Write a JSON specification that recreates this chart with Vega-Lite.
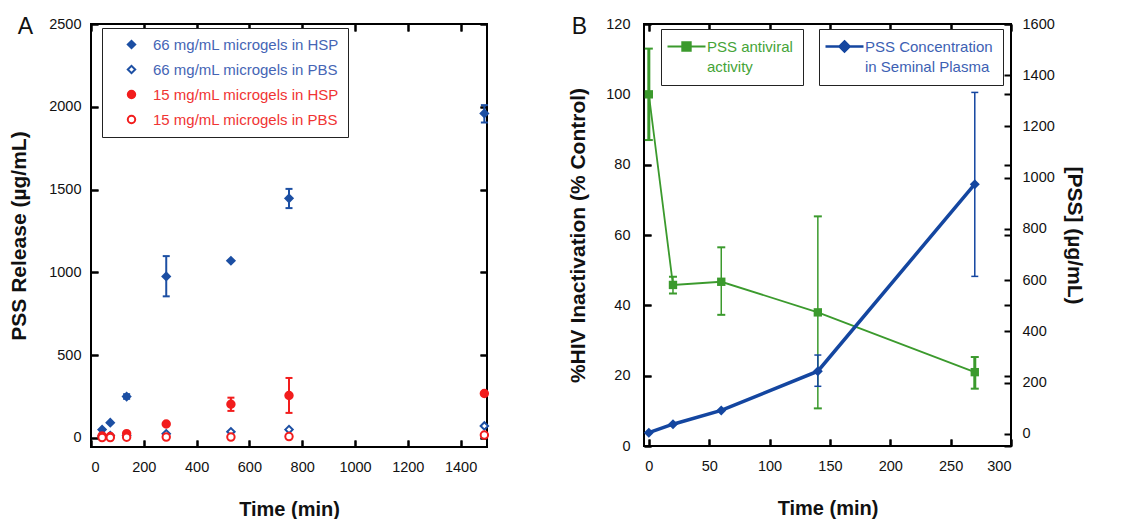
{
  "$schema": "https://vega.github.io/schema/vega-lite/v6.json",
  "background": "white",
  "padding": {"left": 7, "top": 15, "right": 2, "bottom": 2},
  "spacing": 72,
  "config": {
    "font": "Liberation Sans",
    "view": {"stroke": "#000", "strokeWidth": 2},
    "axis": {"domain": false, "ticks": true, "tickSize": -7, "tickWidth": 2, "tickColor": "#000000", "tickOpacity": 1, "grid": true, "gridColor": "#000000", "gridOpacity": 1, "gridWidth": 2, "format": "d", "labelFont": "Liberation Sans", "labelFontSize": 14.5, "labelColor": "#111", "titleFont": "Liberation Sans", "titleFontSize": 21, "titleFontWeight": "bold", "titleColor": "#111"},
    "axisBottom": {"labelPadding": 20, "titlePadding": 26, "titleFontSize": 20},
    "axisLeft": {"labelPadding": 17, "titlePadding": 19},
    "axisRight": {"labelPadding": 18, "titlePadding": 9},
    "title": {"fontSize": 23, "fontWeight": "normal", "anchor": "start", "frame": "bounds", "offset": -23, "color": "#111"},
    "legend": {"labelFont": "Liberation Sans", "labelFontSize": 15, "strokeColor": "#222", "fillColor": "#fff", "labelLimit": 400}
  },
  "hconcat": [
    {
      "width": 396,
      "height": 423,
      "title": {"text": "A", "dx": 9},
      "data": {"values": [
        {"s": "66 mg/mL microgels in HSP", "t": 42, "v": 50},
        {"s": "66 mg/mL microgels in HSP", "t": 73, "v": 92},
        {"s": "66 mg/mL microgels in HSP", "t": 135, "v": 250, "lo": 236, "hi": 264},
        {"s": "66 mg/mL microgels in HSP", "t": 285, "v": 975, "lo": 855, "hi": 1098},
        {"s": "66 mg/mL microgels in HSP", "t": 530, "v": 1070},
        {"s": "66 mg/mL microgels in HSP", "t": 750, "v": 1447, "lo": 1388, "hi": 1504},
        {"s": "66 mg/mL microgels in HSP", "t": 1490, "v": 1960, "lo": 1905, "hi": 2010},
        {"s": "66 mg/mL microgels in PBS", "t": 42, "v": 12},
        {"s": "66 mg/mL microgels in PBS", "t": 73, "v": 14},
        {"s": "66 mg/mL microgels in PBS", "t": 135, "v": 15},
        {"s": "66 mg/mL microgels in PBS", "t": 285, "v": 25},
        {"s": "66 mg/mL microgels in PBS", "t": 530, "v": 37},
        {"s": "66 mg/mL microgels in PBS", "t": 750, "v": 50},
        {"s": "66 mg/mL microgels in PBS", "t": 1490, "v": 72},
        {"s": "15 mg/mL microgels in HSP", "t": 42, "v": 12},
        {"s": "15 mg/mL microgels in HSP", "t": 73, "v": 8},
        {"s": "15 mg/mL microgels in HSP", "t": 135, "v": 26},
        {"s": "15 mg/mL microgels in HSP", "t": 285, "v": 84},
        {"s": "15 mg/mL microgels in HSP", "t": 530, "v": 203, "lo": 163, "hi": 243},
        {"s": "15 mg/mL microgels in HSP", "t": 750, "v": 256, "lo": 151, "hi": 362},
        {"s": "15 mg/mL microgels in HSP", "t": 1490, "v": 268},
        {"s": "15 mg/mL microgels in PBS", "t": 42, "v": 2},
        {"s": "15 mg/mL microgels in PBS", "t": 73, "v": 2},
        {"s": "15 mg/mL microgels in PBS", "t": 135, "v": 4},
        {"s": "15 mg/mL microgels in PBS", "t": 285, "v": 5},
        {"s": "15 mg/mL microgels in PBS", "t": 530, "v": 5},
        {"s": "15 mg/mL microgels in PBS", "t": 750, "v": 8},
        {"s": "15 mg/mL microgels in PBS", "t": 1490, "v": 17}
      ]},
      "layer": [
        {
          "transform": [{"filter": "isValid(datum.lo)"}],
          "mark": {"type": "rule", "strokeWidth": 2},
          "encoding": {
            "x": {"field": "t", "type": "quantitative", "scale": {"domain": [0, 1500], "nice": false, "zero": false}, "axis": {"orient": "top", "labels": false, "title": null, "values": [0, 200, 400, 600, 800, 1000, 1200, 1400], "gridDash": [7, 409, 7, 1000]}},
            "y": {"field": "lo", "type": "quantitative", "scale": {"domain": [-55, 2500], "nice": false, "zero": false}, "axis": {"orient": "right", "labels": false, "title": null, "values": [0, 500, 1000, 1500, 2000, 2500], "gridDash": [7, 382, 7, 1000]}},
            "y2": {"field": "hi"},
            "color": {"condition": {"test": "indexof(datum.s, '66') == 0", "value": "#1c4fa3"}, "value": "#f21d1d"}
          }
        },
        {
          "transform": [{"filter": "isValid(datum.lo)"}],
          "mark": {"type": "tick", "orient": "horizontal", "size": 7, "thickness": 2, "opacity": 1},
          "encoding": {
            "x": {"field": "t", "type": "quantitative", "scale": {"domain": [0, 1500], "nice": false, "zero": false}, "axis": null},
            "y": {"field": "lo", "type": "quantitative", "scale": {"domain": [-55, 2500], "nice": false, "zero": false}, "axis": null},
            "color": {"condition": {"test": "indexof(datum.s, '66') == 0", "value": "#1c4fa3"}, "value": "#f21d1d"}
          }
        },
        {
          "transform": [{"filter": "isValid(datum.hi)"}],
          "mark": {"type": "tick", "orient": "horizontal", "size": 7, "thickness": 2, "opacity": 1},
          "encoding": {
            "x": {"field": "t", "type": "quantitative", "scale": {"domain": [0, 1500], "nice": false, "zero": false}, "axis": null},
            "y": {"field": "hi", "type": "quantitative", "scale": {"domain": [-55, 2500], "nice": false, "zero": false}, "axis": null},
            "color": {"condition": {"test": "indexof(datum.s, '66') == 0", "value": "#1c4fa3"}, "value": "#f21d1d"}
          }
        },
        {
          "mark": {"type": "point", "size": 55, "strokeWidth": 2, "opacity": 1, "filled": false,
            "fill": {"expr": "indexof(datum.s || datum.value || '', 'PBS') > 0 ? '#ffffff' : (indexof(datum.s || datum.value || '', '66') == 0 ? '#1c4fa3' : '#f21d1d')"}},
          "encoding": {
            "x": {"field": "t", "type": "quantitative", "scale": {"domain": [0, 1500], "nice": false, "zero": false}, "axis": {"orient": "bottom", "title": "Time (min)", "values": [0, 200, 400, 600, 800, 1000, 1200, 1400], "gridDash": [7, 409, 7, 1000]}},
            "y": {"field": "v", "type": "quantitative", "scale": {"domain": [-55, 2500], "nice": false, "zero": false}, "axis": {"orient": "left", "title": "PSS Release (µg/mL)", "values": [0, 500, 1000, 1500, 2000, 2500], "gridDash": [7, 382, 7, 1000]}},
            "color": {"field": "s", "type": "nominal", "scale": {"domain": ["66 mg/mL microgels in HSP", "66 mg/mL microgels in PBS", "15 mg/mL microgels in HSP", "15 mg/mL microgels in PBS"], "range": ["#1c4fa3", "#1c4fa3", "#f21d1d", "#f21d1d"]},
              "legend": {"orient": "none", "legendX": 11, "legendY": 4, "title": null, "padding": 9, "symbolOffset": 13, "labelOffset": 14, "rowPadding": 8, "symbolSize": 55, "symbolStrokeWidth": 2, "symbolOpacity": 1,
                "symbolFillColor": {"expr": "indexof(datum.label, 'PBS') > 0 ? '#ffffff' : (indexof(datum.label, '66') == 0 ? '#1c4fa3' : '#f21d1d')"},
                "labelColor": {"expr": "indexof(datum.label, '66') == 0 ? '#4565b5' : '#f03434'"}}},
            "shape": {"field": "s", "type": "nominal", "scale": {"domain": ["66 mg/mL microgels in HSP", "66 mg/mL microgels in PBS", "15 mg/mL microgels in HSP", "15 mg/mL microgels in PBS"], "range": ["diamond", "diamond", "circle", "circle"]}}
          }
        }
      ],
      "resolve": {"axis": {"x": "independent", "y": "independent"}}
    },
    {
      "width": 367,
      "height": 422,
      "title": {"text": "B", "dx": 4},
      "layer": [
        {
          "data": {"values": [
            {"s": "PSS antiviral activity", "t": 0, "v": 100, "lo": 87, "hi": 113},
            {"s": "PSS antiviral activity", "t": 20, "v": 45.8, "lo": 43.4, "hi": 48.1},
            {"s": "PSS antiviral activity", "t": 60, "v": 46.7, "lo": 37.3, "hi": 56.5},
            {"s": "PSS antiviral activity", "t": 140, "v": 38, "lo": 10.7, "hi": 65.3},
            {"s": "PSS antiviral activity", "t": 270, "v": 21, "lo": 16.3, "hi": 25.3}
          ]},
          "layer": [
            {
              "mark": {"type": "line", "strokeWidth": 1.8},
              "encoding": {
                "x": {"field": "t", "type": "quantitative", "scale": {"domain": [-4, 300], "nice": false, "zero": false}, "axis": {"orient": "bottom", "title": "Time (min)", "values": [0, 50, 100, 150, 200, 250, 300], "gridDash": [7, 408, 7, 1000]}},
                "y": {"field": "v", "type": "quantitative", "scale": {"domain": [0, 120], "nice": false, "zero": false}, "axis": {"orient": "left", "title": "%HIV Inactivation  (% Control)", "labelPadding": 21, "titlePadding": 17, "values": [0, 20, 40, 60, 80, 100, 120], "gridDash": [7, 353, 7, 1000]}},
                "color": {"field": "s", "type": "nominal", "scale": {"domain": ["PSS antiviral activity"], "range": ["#3b9a2d"]},
                  "legend": {"orient": "none", "legendX": 17, "legendY": 5, "title": null, "padding": 10, "symbolOffset": 8, "labelOffset": 13,
                    "symbolType": "M-3.8,0H3.8M-0.84,-0.84H0.84V0.84H-0.84Z", "symbolSize": 100, "symbolStrokeWidth": 2, "symbolFillColor": "#3b9a2d", "symbolStrokeColor": "#3b9a2d",
                    "labelColor": "#45a437", "labelExpr": "['PSS antiviral', 'activity']",
                    "encode": {"labels": {"update": {"lineHeight": {"value": 20}}}}}}
              }
            },
            {
              "mark": {"type": "rule", "color": "#3b9a2d"},
              "encoding": {
                "x": {"field": "t", "type": "quantitative", "scale": {"domain": [-4, 300], "nice": false, "zero": false}},
                "y": {"field": "lo", "type": "quantitative", "scale": {"domain": [0, 120], "nice": false, "zero": false}},
                "y2": {"field": "hi"},
                "strokeWidth": {"condition": {"test": "datum.t == 0 || datum.t == 270", "value": 3}, "value": 1.5}
              }
            },
            {
              "mark": {"type": "tick", "orient": "horizontal", "size": 8, "thickness": 2, "opacity": 1, "color": "#3b9a2d"},
              "encoding": {
                "x": {"field": "t", "type": "quantitative", "scale": {"domain": [-4, 300], "nice": false, "zero": false}},
                "y": {"field": "lo", "type": "quantitative", "scale": {"domain": [0, 120], "nice": false, "zero": false}}
              }
            },
            {
              "mark": {"type": "tick", "orient": "horizontal", "size": 8, "thickness": 2, "opacity": 1, "color": "#3b9a2d"},
              "encoding": {
                "x": {"field": "t", "type": "quantitative", "scale": {"domain": [-4, 300], "nice": false, "zero": false}},
                "y": {"field": "hi", "type": "quantitative", "scale": {"domain": [0, 120], "nice": false, "zero": false}}
              }
            },
            {
              "mark": {"type": "point", "shape": "square", "filled": true, "size": 70, "opacity": 1, "color": "#3b9a2d"},
              "encoding": {
                "x": {"field": "t", "type": "quantitative", "scale": {"domain": [-4, 300], "nice": false, "zero": false}},
                "y": {"field": "v", "type": "quantitative", "scale": {"domain": [0, 120], "nice": false, "zero": false}}
              }
            }
          ]
        },
        {
          "data": {"values": [
            {"s": "PSS Concentration in Seminal Plasma", "t": 0, "v": 5},
            {"s": "PSS Concentration in Seminal Plasma", "t": 20, "v": 38},
            {"s": "PSS Concentration in Seminal Plasma", "t": 60, "v": 92},
            {"s": "PSS Concentration in Seminal Plasma", "t": 140, "v": 245, "lo": 186, "hi": 308},
            {"s": "PSS Concentration in Seminal Plasma", "t": 270, "v": 975, "lo": 615, "hi": 1333}
          ]},
          "layer": [
            {
              "mark": {"type": "line", "strokeWidth": 3.5},
              "encoding": {
                "x": {"field": "t", "type": "quantitative", "scale": {"domain": [-4, 300], "nice": false, "zero": false}, "axis": {"orient": "top", "labels": false, "title": null, "values": [0, 50, 100, 150, 200, 250, 300], "gridDash": [7, 408, 7, 1000]}},
                "y": {"field": "v", "type": "quantitative", "scale": {"domain": [-47, 1600], "nice": false, "zero": false}, "axis": {"orient": "right", "title": "[PSS] (µg/mL)", "values": [0, 200, 400, 600, 800, 1000, 1200, 1400, 1600], "gridDash": [7, 353, 7, 1000]}},
                "color": {"field": "s", "type": "nominal", "scale": {"domain": ["PSS Concentration in Seminal Plasma"], "range": ["#1446a0"]},
                  "legend": {"orient": "none", "legendX": 175, "legendY": 5, "title": null, "padding": 10, "symbolOffset": 8, "labelOffset": 13,
                    "symbolType": "M-3.8,0H3.8M0,-1L1,0L0,1L-1,0Z", "symbolSize": 100, "symbolStrokeWidth": 2.5, "symbolFillColor": "#1446a0", "symbolStrokeColor": "#1446a0",
                    "labelColor": "#3d5fb3", "labelExpr": "['PSS Concentration', ' in Seminal Plasma']",
                    "encode": {"labels": {"update": {"lineHeight": {"value": 20}}}}}}
              }
            },
            {
              "transform": [{"filter": "isValid(datum.lo)"}],
              "mark": {"type": "rule", "color": "#1446a0", "strokeWidth": 1.5},
              "encoding": {
                "x": {"field": "t", "type": "quantitative", "scale": {"domain": [-4, 300], "nice": false, "zero": false}},
                "y": {"field": "lo", "type": "quantitative", "scale": {"domain": [-47, 1600], "nice": false, "zero": false}},
                "y2": {"field": "hi"}
              }
            },
            {
              "transform": [{"filter": "isValid(datum.lo)"}],
              "mark": {"type": "tick", "orient": "horizontal", "size": 7, "thickness": 1.5, "opacity": 1, "color": "#1446a0"},
              "encoding": {
                "x": {"field": "t", "type": "quantitative", "scale": {"domain": [-4, 300], "nice": false, "zero": false}},
                "y": {"field": "lo", "type": "quantitative", "scale": {"domain": [-47, 1600], "nice": false, "zero": false}}
              }
            },
            {
              "transform": [{"filter": "isValid(datum.hi)"}],
              "mark": {"type": "tick", "orient": "horizontal", "size": 7, "thickness": 1.5, "opacity": 1, "color": "#1446a0"},
              "encoding": {
                "x": {"field": "t", "type": "quantitative", "scale": {"domain": [-4, 300], "nice": false, "zero": false}},
                "y": {"field": "hi", "type": "quantitative", "scale": {"domain": [-47, 1600], "nice": false, "zero": false}}
              }
            },
            {
              "mark": {"type": "point", "shape": "diamond", "filled": true, "size": 100, "opacity": 1, "color": "#1446a0"},
              "encoding": {
                "x": {"field": "t", "type": "quantitative", "scale": {"domain": [-4, 300], "nice": false, "zero": false}},
                "y": {"field": "v", "type": "quantitative", "scale": {"domain": [-47, 1600], "nice": false, "zero": false}}
              }
            }
          ]
        }
      ],
      "resolve": {"scale": {"y": "independent", "color": "independent"}, "axis": {"x": "independent"}}
    }
  ]
}
